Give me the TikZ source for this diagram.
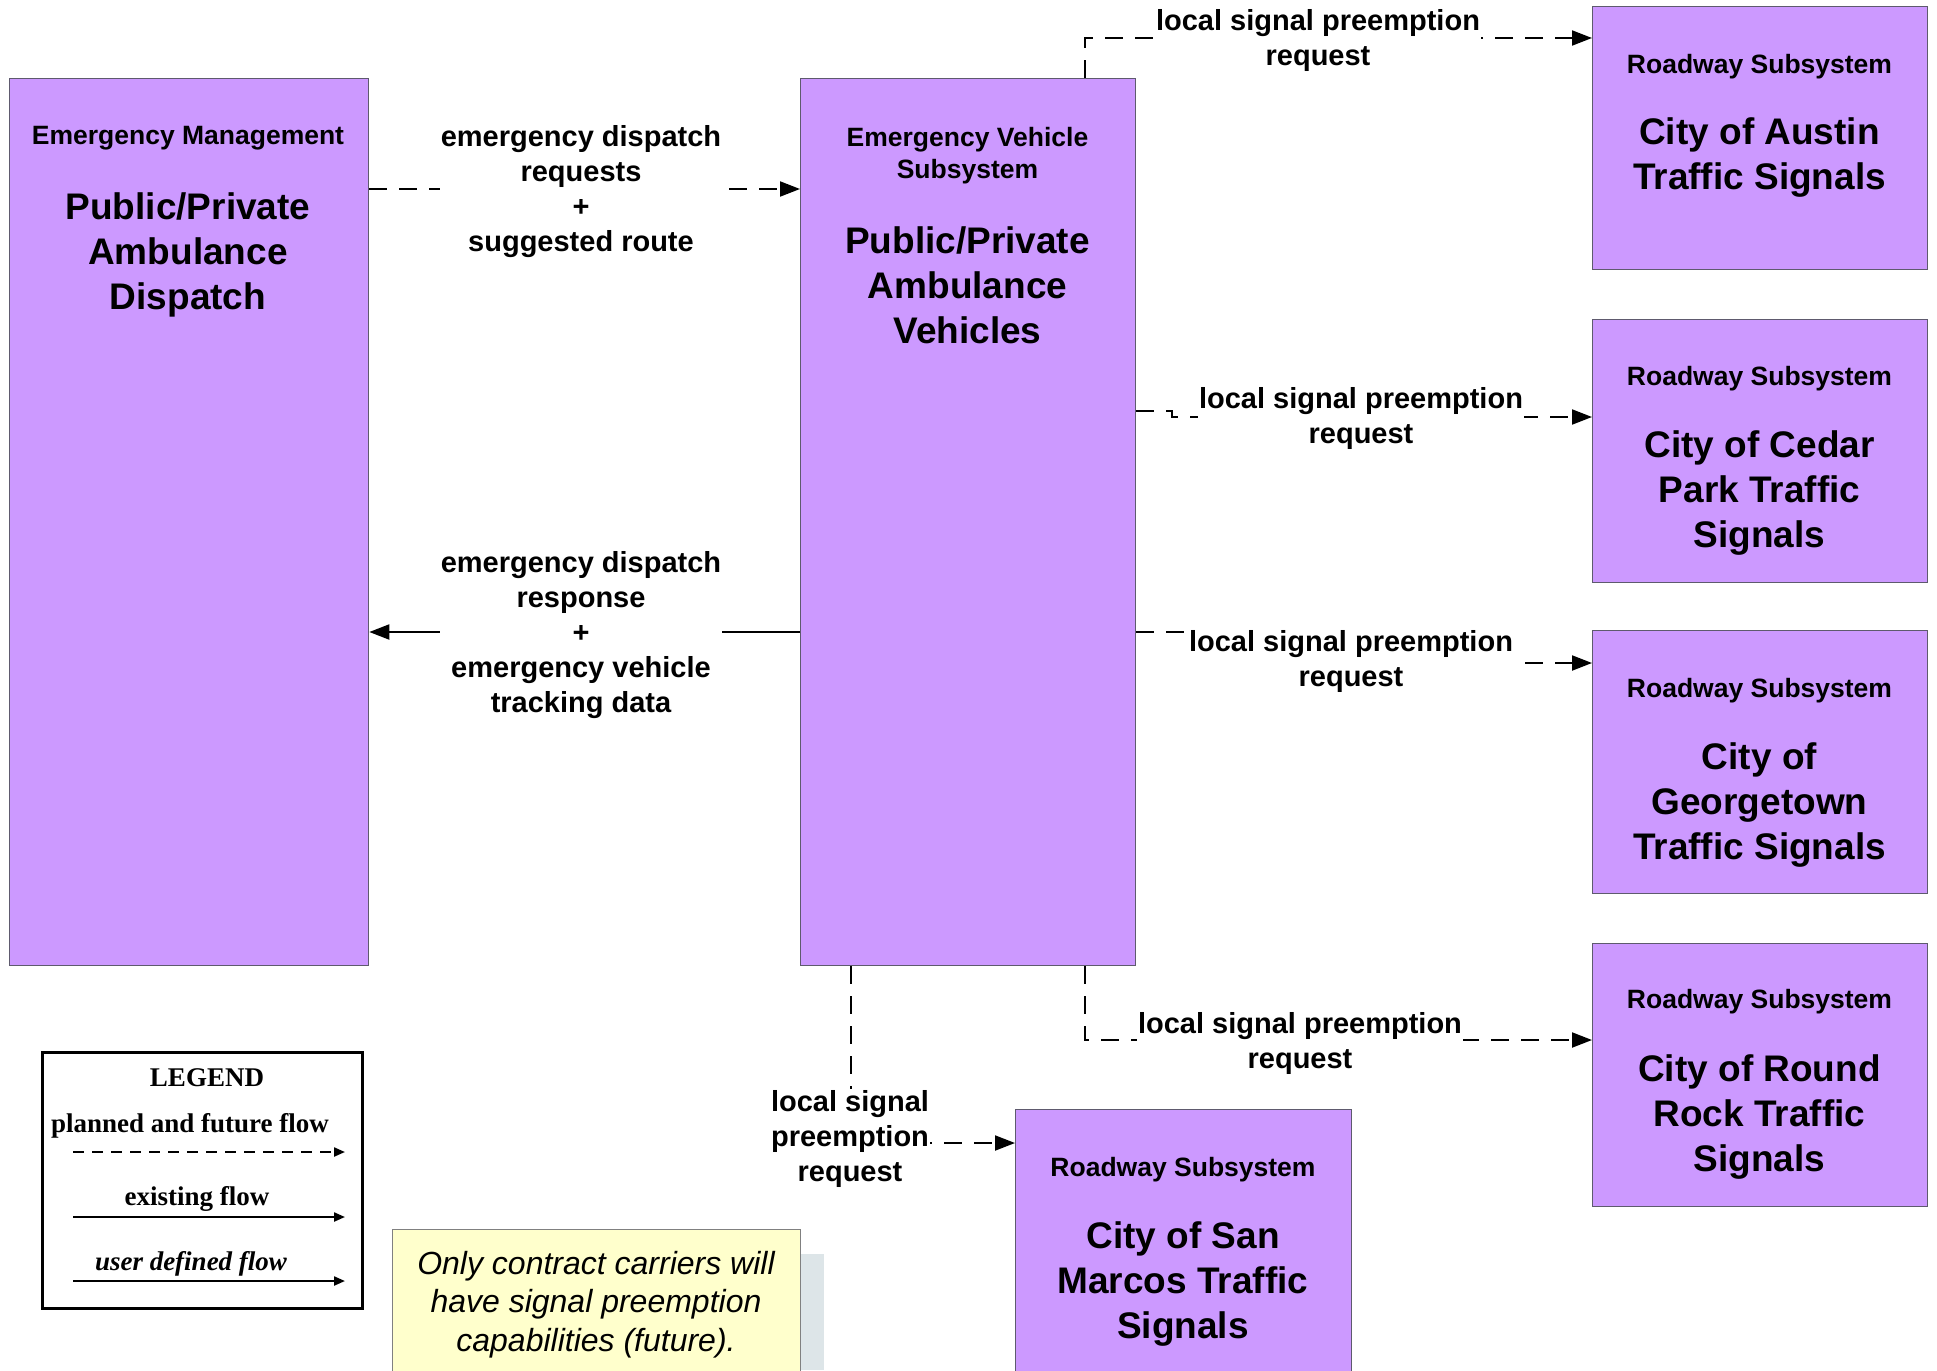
\documentclass[tikz,border=0pt]{standalone}
\usepackage{fontspec}
\setmainfont{Liberation Sans}
\newfontfamily\legfont{Liberation Serif}
\usetikzlibrary{arrows.meta}
\definecolor{boxpurple}{HTML}{CC99FF}
\definecolor{boxedge}{HTML}{5E5A6E}
\definecolor{noteyellow}{HTML}{FFFFCC}
\definecolor{noteshadow}{HTML}{DDE5E8}
\begin{document}
\begin{tikzpicture}[x=1pt,y=-1pt,
  sysbox/.style={draw=boxedge, fill=boxpurple, line width=1.3pt, inner sep=0pt, anchor=north west},
  smalltitle/.style={font=\fontsize{26.5}{31.5}\selectfont\bfseries, align=center, yshift=-2.5pt},
  bigtitle/.style={font=\fontsize{37}{45}\selectfont\bfseries, align=center, yshift=-2pt},
  flowlabel/.style={font=\fontsize{29}{35}\selectfont\bfseries, align=center, fill=white, inner sep=1pt, yshift=-2.5pt},
  flow/.style={line width=2pt, -{Triangle[length=20pt,width=15pt]}},
  planned/.style={flow, dash pattern=on 18pt off 12pt},
  legflow/.style={line width=2.2pt, -{Triangle[length=11pt,width=9pt]}},
  legtext/.style={font=\legfont\fontsize{27}{32}\selectfont\bfseries, yshift=-2pt},
]
\clip (0,0) rectangle (1937,1370);
\fill[white] (0,0) rectangle (1937,1370);

% system boxes
\node[sysbox, minimum width=359.4pt, minimum height=887pt] (disp) at (8.6,78) {};
\node[sysbox, minimum width=335pt, minimum height=887pt] (veh) at (800,78) {};
\node[sysbox, minimum width=335pt, minimum height=263pt] (austin) at (1592,6) {};
\node[sysbox, minimum width=335pt, minimum height=263pt] (cedar) at (1592,319) {};
\node[sysbox, minimum width=335pt, minimum height=263pt] (geo) at (1592,630) {};
\node[sysbox, minimum width=335pt, minimum height=263pt] (rr) at (1592,943) {};
\node[sysbox, minimum width=336pt, minimum height=300pt] (sm) at (1015,1109) {};

% box texts
\node[smalltitle] (disps) at (188,136) {Emergency Management};
\node[bigtitle] (dispn) at (188,253) {Public/Private\\Ambulance\\Dispatch};
\node[smalltitle] (vehs) at (967.5,153) {Emergency Vehicle\\Subsystem};
\node[bigtitle] (vehn) at (967.5,283) {Public/Private\\Ambulance\\Vehicles};
\node[smalltitle] (austins) at (1759.5,64) {Roadway Subsystem};
\node[bigtitle] (austinn) at (1759.5,156) {City of Austin\\Traffic Signals};
\node[smalltitle] (cedars) at (1759.5,376) {Roadway Subsystem};
\node[bigtitle] (cedarn) at (1759.5,491) {City of Cedar\\Park Traffic\\Signals};
\node[smalltitle] (geos) at (1759.5,688) {Roadway Subsystem};
\node[bigtitle] (geon) at (1759.5,803) {City of\\Georgetown\\Traffic Signals};
\node[smalltitle] (rrs) at (1759.5,999) {Roadway Subsystem};
\node[bigtitle] (rrn) at (1759.5,1115) {City of Round\\Rock Traffic\\Signals};
\node[smalltitle] (sms) at (1183,1167) {Roadway Subsystem};
\node[bigtitle] (smn) at (1183,1282) {City of San\\Marcos Traffic\\Signals};

% helper coordinates
\coordinate (r1) at (0,189);
\coordinate (r2) at (0,632);
\coordinate (cA) at (1085,38);
\coordinate (cB1) at (1172,411);
\coordinate (cB2) at (1172,417);
\coordinate (cC1) at (1195,632);
\coordinate (cC2) at (0,663);
\coordinate (cD) at (1085,1040);
\coordinate (cE) at (851,1143);

% connectors
\draw[planned] (disp.east |- r1) -- (veh.west |- r1);
\draw[flow] (veh.west |- r2) -- (disp.east |- r2);
\draw[planned] (veh.north -| cA) -- (cA) -- (austin.west |- cA);
\draw[planned] (veh.east |- cB1) -- (cB1) -- (cB2) -- (cedar.west |- cB2);
\draw[planned] (veh.east |- cC1) -- (cC1) |- (geo.west |- cC2);
\draw[planned] (veh.south -| cD) -- (cD) -- (rr.west |- cD);
\draw[planned] (veh.south -| cE) -- (cE) -- (sm.west |- cE);

% connector labels
\node[flowlabel] (l1) at (581,189) {emergency dispatch\\requests\\+\\suggested route};
\node[flowlabel] (l2) at (581,633) {emergency dispatch\\response\\+\\emergency vehicle\\tracking data};
\node[flowlabel] (l3) at (1318,38) {local signal preemption\\request};
\node[flowlabel] (l4) at (1361,416) {local signal preemption\\request};
\node[flowlabel] (l5) at (1351,659) {local signal preemption\\request};
\node[flowlabel] (l6) at (1300,1041) {local signal preemption\\request};
\node[flowlabel] (l7) at (850,1136) {local signal\\preemption\\request};

% legend
\node[draw=black, line width=2.5pt, minimum width=320pt, minimum height=256pt, anchor=north west, inner sep=0pt] (legend) at (41,1051) {};
\node[legtext] (legt) at (207,1076) {LEGEND};
\node[legtext] (leg1) at (190,1124) {planned and future flow};
\coordinate (lp1) at (73,1152);
\coordinate (lp2) at (345,1152);
\draw[legflow, dash pattern=on 11pt off 8pt] (lp1) -- (lp2);
\node[legtext] (leg2) at (197,1197) {existing flow};
\coordinate (le1) at (73,1217);
\coordinate (le2) at (345,1217);
\draw[legflow] (le1) -- (le2);
\node[legtext, font=\legfont\fontsize{27}{32}\selectfont\bfseries\itshape] (leg3) at (191,1262) {user defined flow};
\coordinate (lu1) at (73,1281);
\coordinate (lu2) at (345,1281);
\draw[legflow] (lu1) -- (lu2);

% note
\fill[noteshadow] (800,1254) rectangle (824,1370);
\node[draw=gray, fill=noteyellow, line width=1pt, minimum width=408pt, minimum height=160pt, anchor=north west, inner sep=0pt] (note) at (392,1229) {};
\node[font=\fontsize{32}{38.5}\selectfont\itshape, align=center, yshift=-2.5pt] (notet) at (596,1302) {Only contract carriers will\\have signal preemption\\capabilities (future).};
\end{tikzpicture}
\end{document}
